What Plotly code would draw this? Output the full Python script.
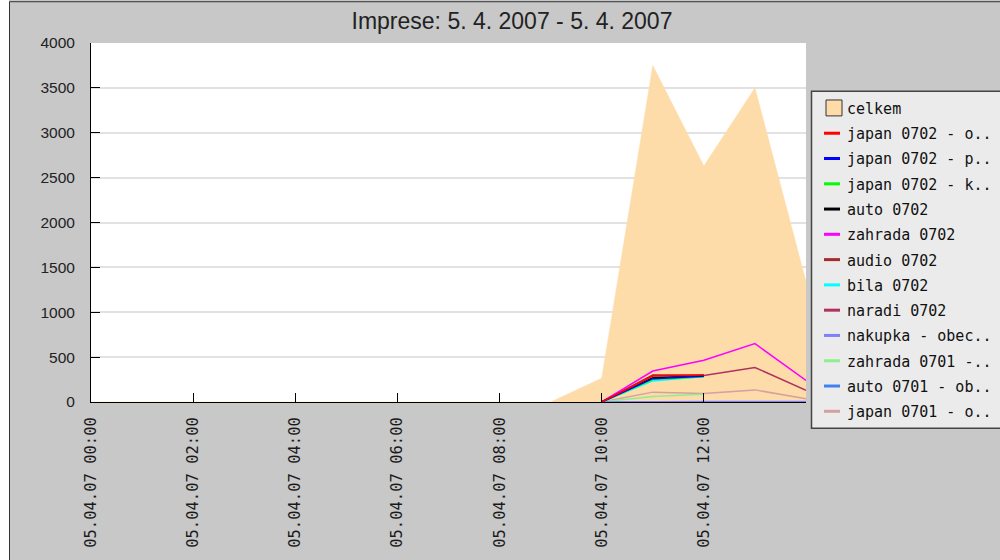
import plotly.graph_objects as go

# ---------------- data ----------------
HOURS = ["2007-04-05 00:00", "2007-04-05 01:00", "2007-04-05 02:00", "2007-04-05 03:00",
         "2007-04-05 04:00", "2007-04-05 05:00", "2007-04-05 06:00", "2007-04-05 07:00",
         "2007-04-05 08:00", "2007-04-05 09:00", "2007-04-05 10:00", "2007-04-05 11:00",
         "2007-04-05 12:00", "2007-04-05 13:00", "2007-04-05 14:00"]

celkem = [0, 0, 0, 0, 0, 0, 0, 0, 0, 0, 266, 3750, 2630, 3500, 1340]

N = None
series_names = ["japan 0702 - o..", "japan 0702 - p..", "japan 0702 - k..", "auto 0702",
                "zahrada 0702", "audio 0702", "bila 0702", "naradi 0702",
                "nakupka - obec..", "zahrada 0701 -..", "auto 0701 - ob..", "japan 0701 - o.."]

japan_0702_o = [N, N, N, N, N, N, N, N, N, N, 0, 290, 300, N, N]
japan_0702_p = [N, N, N, N, N, N, N, N, N, N, 0, 260, 288, N, N]
japan_0702_k = [N, N, N, N, N, N, N, N, N, N, 0, 250, 282, N, N]
auto_0702 = [N, N, N, N, N, N, N, N, N, N, 0, 270, 295, N, N]
zahrada_0702 = [N, N, N, N, N, N, N, N, N, N, 0, 345, 465, 650, 240]
audio_0702 = [N, N, N, N, N, N, N, N, N, N, 0, 300, 298, N, N]
bila_0702 = [N, N, N, N, N, N, N, N, N, N, 0, 235, 285, N, N]
naradi_0702 = [N, N, N, N, N, N, N, N, N, N, 0, 295, 295, 385, 130]
nakupka_obec = [N, N, N, N, N, N, N, N, N, N, 0, 6, 6, 6, 6]
zahrada_0701 = [N, N, N, N, N, N, N, N, N, N, 0, 60, 85, N, N]
auto_0701 = [N, N, N, N, N, N, N, N, N, N, 0, 3, 3, N, N]
japan_0701_o = [N, N, N, N, N, N, N, N, N, N, 0, 110, 95, 135, 35]

series_values = [japan_0702_o, japan_0702_p, japan_0702_k, auto_0702, zahrada_0702,
                 audio_0702, bila_0702, naradi_0702, nakupka_obec, zahrada_0701,
                 auto_0701, japan_0701_o]

tick_vals = ["2007-04-05 00:00", "2007-04-05 02:00", "2007-04-05 04:00", "2007-04-05 06:00",
             "2007-04-05 08:00", "2007-04-05 10:00", "2007-04-05 12:00", "2007-04-05 14:00"]
tick_text = ["05.04.07 00:00", "05.04.07 02:00", "05.04.07 04:00", "05.04.07 06:00",
             "05.04.07 08:00", "05.04.07 10:00", "05.04.07 12:00", ""]

y_ticks = [0, 500, 1000, 1500, 2000, 2500, 3000, 3500, 4000]

# ---------------- styles ----------------
AREA_COLOR = "#fddcaa"
series_colors = ["#ff0000", "#0000ff", "#00ff00", "#000000", "#ff00ff", "#a52a2a",
                 "#00ffff", "#b03060", "#8080ff", "#90ee90", "#4080f0", "#d4a0a0"]

W, H = 1000, 560
ML, MR, MT, MB = 91, 194, 43, 156
PW, PH = W - ML - MR, H - MT - MB


def px_x(px):
    return (px - ML) / PW


def px_y(py):
    return (H - MB - py) / PH


fig = go.Figure()
fig.add_trace(go.Scatter(x=HOURS, y=celkem, name="celkem", mode="lines",
                         fill="tozeroy", fillcolor=AREA_COLOR,
                         line=dict(color=AREA_COLOR, width=0.5), showlegend=False))

# draw so that first legend entries end up on top
for name, vals, col in reversed(list(zip(series_names, series_values, series_colors))):
    fig.add_trace(go.Scatter(x=HOURS, y=vals, name=name, mode="lines",
                             line=dict(color=col, width=1.5), showlegend=False,
                             connectgaps=False))

shapes = []
annotations = []

# outer frame of the picture
shapes.append(dict(type="rect", xref="paper", yref="paper",
                   x0=px_x(-5), x1=px_x(9), y0=px_y(H + 5), y1=px_y(-5),
                   fillcolor="white", line=dict(width=0), layer="above"))
shapes.append(dict(type="rect", xref="paper", yref="paper",
                   x0=px_x(9.5), x1=px_x(W + 10), y0=px_y(H + 10), y1=px_y(1.5),
                   fillcolor="rgba(0,0,0,0)", line=dict(color="#333333", width=1), layer="above"))

# custom legend
LEG_X0, LEG_X1, LEG_Y0, LEG_Y1 = 811.5, W + 10, 91.5, 430.5
shapes.append(dict(type="rect", xref="paper", yref="paper",
                   x0=px_x(LEG_X0), x1=px_x(LEG_X1), y0=px_y(LEG_Y1), y1=px_y(LEG_Y0),
                   fillcolor="#ebebeb", line=dict(color="#444444", width=1.5), layer="above"))

legend_names = ["celkem"] + series_names
row0, row_step = 108.3, 25.42
for i, nm in enumerate(legend_names):
    cy = row0 + i * row_step
    if i == 0:
        shapes.append(dict(type="rect", xref="paper", yref="paper",
                           x0=px_x(826), x1=px_x(842), y0=px_y(cy + 8), y1=px_y(cy - 8),
                           fillcolor=AREA_COLOR, line=dict(color="#333333", width=1), layer="above"))
    else:
        shapes.append(dict(type="line", xref="paper", yref="paper",
                           x0=px_x(824), x1=px_x(840), y0=px_y(cy), y1=px_y(cy),
                           line=dict(color=series_colors[i - 1], width=3), layer="above"))
    annotations.append(dict(text=nm, xref="paper", yref="paper", x=px_x(845), y=px_y(cy + 1),
                            xanchor="left", yanchor="middle", showarrow=False,
                            font=dict(family="DejaVu Sans Mono", size=15, color="#111111")))

fig.update_layout(
    width=W, height=H,
    margin=dict(l=ML, r=MR, t=MT, b=MB, pad=0),
    paper_bgcolor="#c8c8c8",
    plot_bgcolor="white",
    showlegend=False,
    title=dict(text="Imprese: 5. 4. 2007 - 5. 4. 2007", xref="container", x=0.512,
               xanchor="center", yref="container", y=1 - 21 / H, yanchor="middle",
               font=dict(family="Liberation Sans", size=23, color="#222222")),
    shapes=shapes,
    annotations=annotations,
)

fig.update_xaxes(type="date", range=[HOURS[0], HOURS[-1]],
                 tickmode="array", tickvals=tick_vals, ticktext=tick_text,
                 tickangle=-90, ticks="inside", ticklen=9, tickcolor="black", tickwidth=1,
                 showline=True, linecolor="black", linewidth=1, showgrid=False,
                 zeroline=False, ticklabelstandoff=8,
                 tickfont=dict(family="DejaVu Sans Mono", size=15.5, color="#1a1a1a"))

fig.update_yaxes(range=[0, 4000], tickmode="array", tickvals=y_ticks,
                 ticks="inside", ticklen=9, tickcolor="black", tickwidth=1,
                 showline=True, linecolor="black", linewidth=1,
                 showgrid=True, gridcolor="#e2e2e2", gridwidth=1.5, zeroline=False,
                 ticklabelstandoff=12,
                 tickfont=dict(family="Liberation Sans", size=15.5, color="#222222"))

fig.write_html("out.html",
               config={"displayModeBar": False},
               post_script="document.body.style.margin='0';document.body.style.overflow='hidden';")
